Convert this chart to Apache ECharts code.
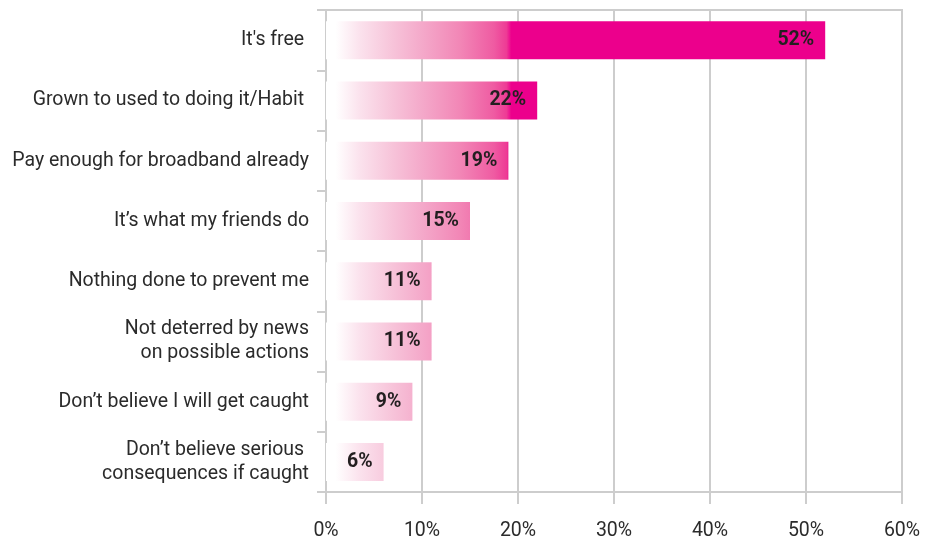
<!DOCTYPE html>
<html>
<head>
<meta charset="utf-8">
<script src="https://cdn.jsdelivr.net/npm/echarts@6/dist/echarts.min.js"></script>
<style>
  html, body { margin: 0; padding: 0; background: #ffffff; }
  #chart { width: 938px; height: 536px; }
</style>
</head>
<body>
<div id="chart"></div>
<script>
// Reasons given for using unlicensed sources (share of respondents, %)
const categories = [
  "It's free ",
  "Grown to used to doing it/Habit ",
  "Pay enough for broadband already",
  "It\u2019s what my friends do",
  "Nothing done to prevent me",
  "Not deterred by news\non possible actions",
  "Don\u2019t believe I will get caught",
  "Don\u2019t believe serious \nconsequences if caught"
];
const shares = [52, 22, 19, 15, 11, 11, 9, 6];
const tickLabels = ["0%", "10%", "20%", "30%", "40%", "50%", "60%"];

// Fill ramp along the value axis: [axis value in %, colour].
// Beyond the last stop the bars are solid magenta.
const ramp = [
  [0, '#ffffff'],
  [1.0, '#ffffff'],
  [3.5, '#fbe2ed'],
  [7, '#f7c3d9'],
  [10, '#f4a9ca'],
  [14, '#f286b6'],
  [17.5, '#ef5ba2'],
  [18.8, '#ee3b95'],
  [19.3, '#ec008c']
];

function hexToRgb(h) {
  const n = parseInt(h.slice(1), 16);
  return [(n >> 16) & 255, (n >> 8) & 255, n & 255];
}
function mix(a, b, t) {
  const A = hexToRgb(a), B = hexToRgb(b);
  const c = A.map((v, i) => Math.round(v + (B[i] - v) * t));
  return 'rgb(' + c.join(',') + ')';
}
function rampColor(x) {
  for (let i = 1; i < ramp.length; i++) {
    if (x <= ramp[i][0]) {
      const [x0, c0] = ramp[i - 1], [x1, c1] = ramp[i];
      return mix(c0, c1, (x - x0) / (x1 - x0));
    }
  }
  return ramp[ramp.length - 1][1];
}
// Bar-local gradient so every bar shows the same stretch of the ramp
function barFill(v) {
  const stops = [];
  for (const [x, c] of ramp) {
    if (x < v) stops.push({ offset: x / v, color: c });
  }
  stops.push({ offset: 1, color: rampColor(v) });
  return new echarts.graphic.LinearGradient(0, 0, 1, 0, stops);
}

const gridColor = '#cdcdcd';
const textColor = '#2b2b2b';
const font = 'Roboto, "DejaVu Sans", sans-serif';
const line = { color: gridColor, width: 2 };

const chart = echarts.init(document.getElementById('chart'), null, { renderer: 'canvas' });
chart.setOption({
  animation: false,
  grid: {
    left: 326, right: 36, top: 10, bottom: 44,
    containLabel: false, outerBoundsMode: 'none',
    show: true, borderColor: gridColor, borderWidth: 2, backgroundColor: 'transparent'
  },
  xAxis: {
    type: 'value', min: 0, max: 60, interval: 10,
    axisLine: { show: true, lineStyle: line },
    axisTick: { show: true, length: 12, lineStyle: line },
    splitLine: { show: true, lineStyle: line },
    axisLabel: {
      margin: 29, fontSize: 19.5, color: textColor, fontFamily: font,
      formatter: (val) => tickLabels[Math.round(val / 10)]
    }
  },
  yAxis: {
    type: 'category', inverse: true, data: categories,
    axisLine: { show: true, lineStyle: line },
    axisTick: { show: true, length: 9, interval: 0, lineStyle: line },
    splitLine: { show: false },
    axisLabel: {
      interval: 0, margin: 17, fontSize: 19.5, lineHeight: 24,
      color: textColor, fontFamily: font, align: 'right',
      padding: [12, 0, 0, 0]
    }
  },
  series: [{
    type: 'bar',
    barWidth: 38,
    data: shares.map(v => ({ value: v, itemStyle: { color: barFill(v) } })),
    label: {
      show: true, position: 'insideRight', distance: 11,
      formatter: '{c}%', fontSize: 19.5, fontWeight: 'bold',
      color: '#231f20', fontFamily: font, padding: [9, 0, 0, 0]
    }
  }]
});
</script>
</body>
</html>
